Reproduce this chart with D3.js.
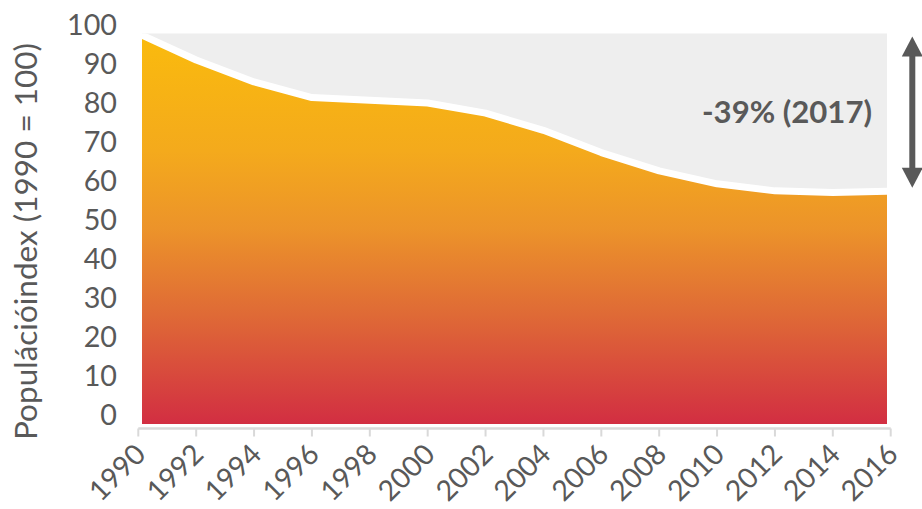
<!DOCTYPE html>
<html>
<head>
<meta charset="utf-8">
<script src="https://cdn.jsdelivr.net/npm/d3@7"></script>
<style>
  html, body { margin: 0; padding: 0; background: #fff; }
  svg { display: block; }
  text { font-family: Lato, "Open Sans", sans-serif; }
</style>
</head>
<body>
<svg id="chart" width="922" height="509"></svg>
<script>
// ---- data ----
const years = [1990, 1992, 1994, 1996, 1998, 2000, 2002, 2004, 2006, 2008, 2010, 2012, 2014, 2016];
const indexValues = [100, 93.2, 87.6, 83.6, 82.9, 82.2, 79.6, 75.2, 69.5, 64.8, 61.5, 59.7, 59.3, 59.6];
const yTicks = [0, 10, 20, 30, 40, 50, 60, 70, 80, 90, 100];
const xTickLabels = ["1990","1992","1994","1996","1998","2000","2002","2004","2006","2008","2010","2012","2014","2016"];
const yTitle = "Populációindex (1990 = 100)";
const annotation = "-39% (2017)";

const svg = d3.select("#chart");
const x = d3.scaleLinear().domain([1990, 2016]).range([138.3, 890.7]);
const y = d3.scaleLinear().domain([0, 100]).range([424, 33.5]);

const plotL = 142, plotR = 887;
const data = years.map((yr, i) => ({ yr, v: indexValues[i] }));

// scale a text's font size so its length matches a target
function fit(sel, target) {
  const n = sel.node();
  const fs = parseFloat(sel.attr("font-size"));
  const len = n.getComputedTextLength();
  if (len > 0) sel.attr("font-size", (fs * target / len).toFixed(2));
  return sel;
}

const defs = svg.append("defs");
const grad = defs.append("linearGradient").attr("id", "g")
  .attr("gradientUnits", "userSpaceOnUse")
  .attr("x1", 0).attr("x2", 0).attr("y1", y(100)).attr("y2", y(0));
[["0%", "#FABB0D"], ["30%", "#F4AA1C"], ["50%", "#EC932A"], ["72%", "#DF6A36"], ["100%", "#D22E42"]]
  .forEach(([o, c]) => grad.append("stop").attr("offset", o).attr("stop-color", c));
defs.append("clipPath").attr("id", "clip").append("rect")
  .attr("x", plotL).attr("y", y(100)).attr("width", plotR - plotL).attr("height", y(0) - y(100));

// background band
svg.append("rect").attr("x", plotL).attr("y", y(100))
  .attr("width", plotR - plotL).attr("height", y(0) - y(100)).attr("fill", "#EEEEEE");

const g = svg.append("g").attr("clip-path", "url(#clip)");
const area = d3.area().x(d => x(d.yr)).y0(y(0)).y1(d => y(d.v));
const line = d3.line().x(d => x(d.yr)).y(d => y(d.v));
g.append("path").datum(data).attr("d", area).attr("fill", "url(#g)");
g.append("path").datum(data).attr("d", line).attr("fill", "none")
  .attr("stroke", "#fff").attr("stroke-width", 7).attr("stroke-linejoin", "round");

// x axis
const xAxis = svg.append("g").attr("transform", "translate(0,428.5)");
xAxis.append("line").attr("x1", x(1990)).attr("x2", x(2016)).attr("stroke", "#D9D9D9").attr("stroke-width", 2.5);
xAxis.selectAll("line.tick").data(years).join("line").attr("class", "tick")
  .attr("x1", d => x(d)).attr("x2", d => x(d)).attr("y1", 0).attr("y2", 8)
  .attr("stroke", "#D9D9D9").attr("stroke-width", 2);
const xl = svg.selectAll("text.xl").data(years).join("text").attr("class", "xl")
  .attr("text-anchor", "end").attr("font-size", 26).attr("fill", "#595959")
  .text((d, i) => xTickLabels[i]);
fit(d3.select(xl.nodes()[0]), 66);
const xfs = d3.select(xl.nodes()[0]).attr("font-size");
xl.attr("font-size", xfs).attr("transform", d => `translate(${x(d) + 9},456) rotate(-45)`);

// y axis labels
const yl = svg.selectAll("text.yl").data(yTicks).join("text").attr("class", "yl")
  .attr("x", 117).attr("y", d => y(d) - 9).attr("dy", "0.36em")
  .attr("text-anchor", "end").attr("font-size", 27).attr("fill", "#595959")
  .text(d => d);
fit(d3.select(yl.nodes()[yl.nodes().length - 1]), 50);
yl.attr("font-size", d3.select(yl.nodes()[yl.nodes().length - 1]).attr("font-size"));

// y title
const yt = svg.append("text").attr("transform", "translate(37,241.5) rotate(-90)")
  .attr("text-anchor", "middle").attr("font-size", 25).attr("fill", "#595959")
  .text(yTitle);
fit(yt, 397);

// annotation
const an = svg.append("text").attr("x", 787).attr("y", 123).attr("text-anchor", "middle")
  .attr("font-size", 28).attr("font-weight", "bold").attr("fill", "#595959")
  .text(annotation);
fit(an, 170);

// double arrow
const ax = 912.3, aTop = y(100) + 3, aBot = y(60.5);
svg.append("line").attr("x1", ax).attr("x2", ax).attr("y1", aTop + 15).attr("y2", aBot - 15)
  .attr("stroke", "#595959").attr("stroke-width", 6);
svg.append("path").attr("d", `M${ax},${aTop} L${ax + 10.5},${aTop + 20} L${ax - 10.5},${aTop + 20} Z`).attr("fill", "#595959");
svg.append("path").attr("d", `M${ax},${aBot} L${ax + 10.5},${aBot - 20} L${ax - 10.5},${aBot - 20} Z`).attr("fill", "#595959");
</script>
</body>
</html>
